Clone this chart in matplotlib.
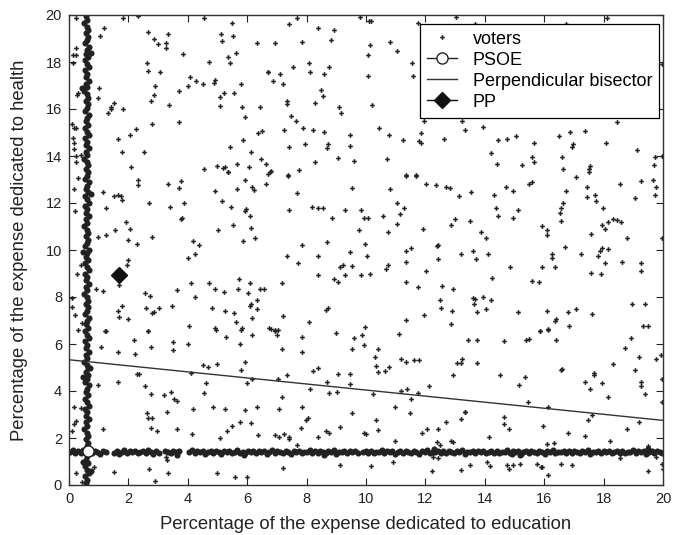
import matplotlib
matplotlib.use('Agg')
import matplotlib.pyplot as plt

# ---------------- data ----------------
# scattered voters (education %, health %)
voters_scatter = [
(1.18,19.46),(1.04,19.11),(0.25,18.6),(2.67,19.28),(2.85,19.0),(2.98,18.76),(3.27,18.8),(3.27,18.6),(3.34,19.2),(3.83,18.33),
(2.62,17.94),(2.67,17.63),(3.07,17.58),(4.71,17.98),(5.12,19.2),(5.52,19.11),(5.15,18.9),(5.48,19.68),(6.33,18.8),(5.63,18.38),
(5.35,18.23),(5.41,17.94),(6.7,17.58),(0.14,18.29),(0.23,18.29),(0.14,17.94),(4.09,17.35),(4.28,17.18),(4.0,16.99),(4.5,17.06),
(4.92,17.22),(4.88,17.12),(5.8,17.06),(2.9,16.99),(1.01,16.88),(0.3,16.7),(0.28,16.58),(0.96,16.47),(3.69,16.75),(2.85,16.6),
(2.76,16.36),(5.21,16.67),(5.07,16.53),(5.54,16.67),(1.52,16.26),(1.43,16.08),(1.41,15.98),(1.32,15.83),(1.82,16.0),(3.36,16.19),
(5.07,16.12),(5.82,16.07),(6.42,16.07),(5.91,15.65),(0.11,15.37),(0.17,15.2),(0.25,15.2),(2.79,15.37),(3.69,15.44),(2.25,15.16),
(2.06,14.9),(1.66,14.73),(0.14,14.76),(0.17,14.55),(0.17,14.3),(0.23,14.0),(0.39,14.05),(0.25,13.74),(1.78,14.17),(2.53,14.17),
(2.1,13.53),(6.5,15.08),(6.38,14.97),(5.86,14.66),(5.41,14.38),(6.14,14.17),(6.45,13.86),(5.66,13.67),(6.05,13.53),(5.24,13.55),
(5.18,13.5),(4.99,13.57),(5.35,13.32),(4.56,13.46),(6.64,13.67),(0.23,19.86),(1.82,19.86),(2.31,19.96),(4.56,19.86),
(7.67,19.89),(7.42,19.6),(8.37,19.44),(8.93,19.37),(9.79,19.92),(10.1,19.75),(10.18,19.75),(11.74,19.68),(13.04,19.92),(6.94,18.8),
(7.86,18.86),(8.82,18.93),(10.12,18.74),(10.82,18.86),(10.07,18.29),(11.05,18.45),(6.71,17.58),(7.1,17.49),(6.88,17.18),(7.22,17.06),
(7.53,17.77),(8.09,17.94),(8.12,17.58),(8.74,17.77),(8.6,17.49),(10.07,17.42),(11.55,17.94),(11.59,17.42),(8.49,16.82),(8.55,16.54),
(7.35,16.36),(7.35,16.2),(8.27,16.26),(9.1,16.07),(9.16,15.83),(10.21,16.19),(7.48,15.72),(7.63,15.5),(7.25,15.09),(7.89,15.2),
(8.23,15.11),(8.6,15.01),(9.47,14.9),(10.44,15.2),(10.78,14.9),(11.24,14.69),(11.84,14.97),(11.78,14.62),(11.84,14.57),(12.62,14.73),
(11.95,15.51),(13.24,15.51),(13.32,15.09),(7.42,14.38),(7.95,14.49),(8.72,14.49),(8.68,14.33),(9.47,14.42),(9.05,13.93),(8.29,13.74),
(9.6,13.79),(10.71,13.86),(7.73,13.39),(6.79,13.35),(6.71,13.25),(7.39,13.2),(11.33,13.2),(11.7,13.2),
(13.68,19.6),(16.72,19.6),(18.13,19.86),(19.98,17.91),(18.46,15.44),(13.93,15.23),(14.43,14.66),(14.75,14.73),(15.06,14.83),(15.65,14.55),
(16.49,14.83),(16.86,15.01),(17.39,15.08),(16.98,14.52),(16.95,14.38),(18.07,14.56),(19.14,14.27),(14.22,14.12),(15.59,13.95),(15.67,13.74),
(16.6,13.95),(14.41,13.64),(15.25,13.6),(16.64,13.43),(17.5,13.43),(17.53,13.56),(19.74,13.95),(19.7,13.6),(19.98,14.0),
(0.3,13.06),(0.17,12.6),(1.13,12.46),(1.52,12.3),(1.66,12.35),(1.75,12.3),(1.78,12.11),(2.31,13.0),(2.31,12.77),(3.32,12.82),
(3.69,12.65),(3.77,12.93),(2.7,11.99),(1.24,11.78),(0.2,11.64),(3.41,11.83),(3.86,11.99),(3.77,11.33),(3.79,11.36),(1.91,11.19),
(2.06,10.88),(1.55,10.84),(1.24,10.63),(0.99,10.56),(1.97,10.41),(2.29,10.27),(2.79,10.56),(4.19,10.39),(4.37,10.2),(4.25,9.85),
(4.0,9.68),(2.0,9.57),(1.94,9.38),(0.28,9.0),(0.39,9.38),(1.69,8.5),(0.9,8.34),(1.13,8.25),(0.11,7.94),(0.11,7.59),
(0.2,7.24),(0.43,6.88),(0.3,6.6),(4.11,8.58),(3.64,8.3),(2.57,8.18),(2.74,8.04),(4.25,7.98),(1.78,7.63),(1.66,7.41),
(1.69,7.17),(2.0,7.07),(2.59,7.52),(3.04,7.52),(2.85,7.38),(2.79,7.3),(3.46,7.63),(4.05,6.78),(2.67,6.56),(1.22,6.56),
(4.71,8.58),(4.9,8.34),(5.21,8.2),(5.72,8.75),(5.69,8.34),(6.08,8.58),(6.02,8.18),(6.42,8.34),(6.55,8.34),(6.33,7.87),
(6.14,7.72),(6.08,7.6),(6.33,7.49),(4.81,7.52),(5.26,7.41),(5.55,7.31),(6.17,7.1),(5.61,6.95),(4.93,6.67),(5.82,6.67),
(6.72,6.67),(4.9,12.53),(5.16,12.07),(5.44,11.83),(5.66,12.58),(5.91,12.96),(6.17,12.7),(6.23,12.55),(6.64,12.82),(5.95,11.75),
(5.91,11.65),(6.08,11.43),(5.52,11.08),(6.14,10.95),(5.03,10.84),(6.27,10.49),(5.86,10.37),(5.35,13.3),
(7.39,13.17),(6.77,13.3),(7.67,12.42),(9.53,12.65),(10.82,12.58),(11.33,13.17),(11.7,13.17),(12.03,12.82),(12.36,12.75),(12.68,12.7),
(12.82,12.65),(13.13,12.3),(7.42,11.71),(8.18,11.83),(8.37,11.78),(8.55,11.78),(8.87,11.36),(9.28,11.71),(9.84,11.71),(9.92,11.36),
(10.07,11.36),(10.57,11.43),(11.05,12.01),(11.27,11.78),(11.14,11.54),(11.05,11.12),(9.75,10.84),(10.73,10.77),(11.91,10.91),(12.85,11.08),
(13.0,11.3),(7.86,10.2),(8.68,10.32),(9.98,10.27),(7.35,9.74),(7.7,9.45),(8.4,9.74),(9.47,9.92),(10.03,9.74),(11.36,9.96),
(11.5,10.08),(12.4,10.15),(12.44,10.23),(13.19,9.85),(12.43,9.61),(11.33,9.47),(12.03,9.1),(9.11,9.26),(9.21,9.38),(9.53,9.33),
(10.73,9.38),(10.68,9.21),(8.37,8.93),(8.91,8.76),(9.05,8.62),(9.28,8.93),(9.84,8.93),(10.12,9.0),(7.16,8.58),(11.36,8.65),
(11.75,8.41),(12.57,8.47),(12.94,8.34),(12.48,7.87),(12.53,7.52),(12.9,7.42),(8.72,7.55),(8.65,7.45),(7.22,7.2),(8.09,6.95),
(11.33,7.03),(11.95,7.24),(12.85,6.84),(9.98,6.71),(6.79,6.65),(6.94,6.6),(7.03,6.6),
(13.54,12.46),(14.3,12.35),(14.71,12.7),(14.94,12.53),(15.5,12.82),(15.6,12.88),(16.74,12.53),(17.08,13.1),(17.51,13.3),(17.43,12.7),
(17.71,12.35),(17.43,12.25),(17.75,12.07),(18.54,12.82),(19.25,12.93),(19.67,13.0),(19.76,12.7),(19.72,12.35),(19.06,12.22),(14.39,11.78),
(14.43,11.43),(15.12,11.71),(14.94,11.36),(13.51,11.23),(16.64,12.01),(16.57,11.78),(16.52,11.58),(16.57,11.23),(17.99,11.78),(15.91,11.02),
(16.1,10.84),(16.1,10.65),(13.87,10.77),(14.05,10.49),(18.33,11.3),(18.46,11.26),(18.6,11.19),(18.15,11.19),(17.93,11.08),(18.04,10.88),
(17.56,10.67),(18.78,10.49),(19.98,10.49),(13.59,9.96),(13.7,9.61),(14.11,9.81),(16.25,9.81),(16.25,9.67),(16.7,10.13),(17.25,9.85),
(17.96,10.09),(17.88,9.96),(17.81,9.74),(18.15,10.03),(18.05,9.45),(18.63,9.5),(19.25,9.45),(19.25,9.1),(14.84,9.26),(15.91,9.26),
(16.36,9.26),(17.56,9.04),(17.9,8.97),(14.24,8.79),(15.59,8.69),(15.82,8.62),(13.59,7.94),(13.68,7.9),(13.62,7.69),(13.93,7.98),
(14.21,7.87),(13.73,7.35),(14.05,7.48),(15.12,7.35),(16.1,7.41),(16.8,7.35),(17.08,7.48),(17.62,7.28),(16.35,6.98),(16.4,7.06),
(18.97,7.69),(19.39,7.69),(16.85,6.77),(16.13,6.64),(15.87,6.56),(19.33,6.77),(19.48,6.77),
(1.24,6.54),(2.67,6.54),(1.09,5.86),(1.66,5.66),(2.2,6.19),(2.22,5.59),(2.76,5.86),(3.49,6.1),(3.49,5.76),(4.02,6.0),
(4.95,6.61),(5.29,6.3),(5.8,6.61),(6.17,6.4),(5.77,6.0),(5.91,5.24),(5.8,4.91),(4.5,5.1),(4.67,5.03),(4.98,5.16),
(2.29,4.73),(2.36,4.73),(4.11,4.77),(0.99,4.25),(1.66,4.39),(2.57,4.21),(2.76,3.86),(3.19,3.81),(3.43,3.97),(3.55,3.68),
(3.63,3.58),(4.62,4.35),(4.56,3.93),(6.0,4.35),(6.17,4.52),(0.17,3.33),(0.39,3.29),(2.62,3.06),(2.67,2.83),(2.79,2.87),
(3.3,3.11),(4.19,3.22),(4.84,3.33),(5.26,3.22),(5.91,3.18),(6.33,3.33),(2.76,2.42),(2.95,2.3),(1.13,2.37),(3.63,2.37),
(4.14,2.19),(5.07,1.98),(5.32,2.3),(5.5,2.51),(5.77,2.7),(6.14,2.63),(6.36,2.12),(0.17,2.6),(0.11,2.3),(0.22,2.73),
(3.27,1.2),(3.3,1.05),(0.84,0.75),(0.25,0.51),(1.5,0.54),(2.7,0.68),(3.32,0.49),(2.91,0.18),(4.99,0.49),(5.6,0.33),
(6.0,0.33),(0.45,0.14),
(6.95,6.54),(7.0,6.4),(7.86,6.3),(7.86,5.65),(7.16,5.79),(9.0,6.47),(9.6,6.26),(9.86,6.4),(9.92,5.95),(9.53,5.79),
(10.41,5.79),(11.1,6.43),(10.3,5.44),(10.35,5.08),(10.41,4.8),(10.63,4.84),(10.77,5.01),(11.18,5.37),(11.33,5.24),(11.61,5.31),
(11.8,5.31),(13.05,5.2),(13.19,5.2),(13.22,5.37),(12.94,4.66),(7.35,4.68),(8.23,4.84),(8.4,4.96),(9.05,4.73),(9.47,4.73),
(7.05,4.5),(8.68,4.38),(9.47,4.28),(8.12,4.07),(8.74,3.9),(9.02,3.97),(10.22,3.86),(11.19,4.0),(11.38,4.1),(11.5,3.67),
(11.75,3.93),(12.12,4.21),(7.16,3.74),(7.07,3.22),(7.86,3.33),(8.04,2.86),(7.98,2.77),(9.53,3.05),(10.35,2.77),(10.99,3.33),
(11.47,3.05),(10.4,2.34),(7.81,2.42),(9.11,2.47),(8.66,2.3),(8.74,2.23),(8.37,2.06),(6.94,2.12),(7.08,2.05),(7.25,2.16),
(7.42,2.06),(7.42,1.95),(7.67,1.71),(9.92,2.2),(10.0,2.16),(10.99,1.88),(11.89,2.23),(12.06,2.4),(12.43,2.37),(12.71,2.7),
(13.19,2.82),(13.33,3.11),(12.4,1.81),(12.49,1.71),(12.85,1.88),(12.94,1.81),(7.2,0.72),(9.11,0.85),(10.18,0.79),(10.91,0.96),
(12.21,0.61),(12.25,1.2),(12.43,1.13),(13.19,0.65),
(13.45,6.19),(13.73,6.19),(14.66,6.12),(15.4,6.19),(15.48,6.23),(15.87,6.54),(16.13,6.61),(16.41,6.19),(18.91,6.26),(18.72,5.83),
(19.2,5.44),(19.93,5.55),(19.76,5.37),(13.73,5.2),(14.52,4.68),(15.34,4.6),(15.16,4.25),(16.6,4.95),(16.57,4.88),(17.68,4.77),
(17.68,4.68),(17.39,4.39),(17.53,4.1),(17.93,4.35),(18.32,5.16),(19.06,4.91),(19.25,4.38),(19.25,4.2),(19.4,3.86),(18.15,3.74),
(19.98,4.52),(19.98,3.53),(13.34,3.11),(15.46,3.53),(16.13,3.33),(14.66,2.9),(14.66,2.6),(14.8,2.4),(15.95,2.51),(14.15,2.06),
(16.8,2.23),(17.36,2.09),(17.48,2.75),(17.62,2.98),(18.8,2.4),(19.2,2.7),(18.22,1.88),(16.33,1.8),(16.1,1.76),(19.51,1.67),
(13.51,0.85),(14.07,1.0),(14.18,0.8),(14.75,0.85),(14.8,0.68),(14.94,0.83),(15.2,0.9),(15.76,0.9),(15.88,0.78),(15.93,0.78),
(16.57,0.9),(16.92,0.85),(18.55,1.13),(19.76,1.2),(19.98,0.9),(19.51,0.61),(20.0,0.7),(16.13,0.42),
]

# voters crowded along health ~ 1.4 %
voters_hband = [
(0.03,1.40),(0.12,1.47),(0.21,1.35),(0.30,1.44),(0.39,1.38),(0.48,1.50),(0.78,1.36),(0.86,1.45),(0.95,1.40),(1.05,1.33),
(1.14,1.46),(1.24,1.41),(1.50,1.38),(1.60,1.44),(1.68,1.34),(1.77,1.42),(1.86,1.48),(1.95,1.37),(2.04,1.43),(2.13,1.39),
(2.22,1.46),(2.31,1.35),(2.40,1.41),(2.49,1.44),(2.58,1.37),(2.66,1.47),(2.75,1.40),(2.84,1.33),(2.93,1.43),(3.02,1.38),
(3.24,1.44),(3.33,1.39),(3.42,1.35),(3.51,1.45),(3.60,1.40),(3.70,1.43),(4.05,1.41),(4.14,1.47),(4.23,1.36),(4.32,1.43),
(4.41,1.39),(4.50,1.46),(4.59,1.34),(4.68,1.41),(4.77,1.45),(4.86,1.37),(4.95,1.43),(5.04,1.40),(5.13,1.33),(5.22,1.46),
(5.31,1.39),(5.40,1.44),(5.49,1.36),(5.58,1.42),(5.67,1.47),(5.76,1.38),(5.85,1.41),(5.94,1.35),(6.03,1.44),(6.12,1.40),
(6.21,1.46),(6.30,1.37),(6.39,1.43),(6.48,1.39),(6.57,1.45),(6.66,1.34),(6.75,1.41),(6.84,1.47),(6.93,1.38),(7.02,1.43),
(7.11,1.40),(7.20,1.36),(7.29,1.45),(7.38,1.41),(7.47,1.33),(7.56,1.44),(7.65,1.39),(7.74,1.46),(7.83,1.37),(7.92,1.42),
(8.01,1.40),(8.10,1.47),(8.19,1.35),(8.28,1.43),(8.37,1.38),(8.46,1.45),(8.55,1.41),(8.64,1.36),(8.73,1.44),(8.82,1.39),
(8.91,1.47),(9.00,1.34),(9.09,1.42),(9.18,1.40),(9.27,1.46),(9.36,1.37),(9.45,1.43),(9.54,1.39),(9.63,1.45),(9.72,1.36),
(9.90,1.41),(9.99,1.44),(10.08,1.38),(10.17,1.46),(10.26,1.35),(10.35,1.42),(10.44,1.40),(10.53,1.47),(10.62,1.37),(10.71,1.43),
(10.80,1.39),(10.89,1.45),(10.98,1.34),(11.07,1.41),(11.16,1.46),(11.25,1.38),(11.34,1.43),(11.43,1.40),(11.52,1.36),(11.61,1.45),
(11.70,1.41),(11.79,1.33),(11.88,1.44),(11.97,1.39),(12.06,1.47),(12.15,1.37),(12.24,1.42),(12.33,1.40),(12.42,1.46),(12.51,1.35),
(12.60,1.43),(12.69,1.38),(12.78,1.45),(12.87,1.41),(12.96,1.36),(13.05,1.44),(13.14,1.39),(13.23,1.47),(13.32,1.34),(13.41,1.42),
(13.50,1.40),(13.59,1.46),(13.68,1.37),(13.77,1.43),(13.86,1.39),(13.95,1.45),(14.04,1.36),(14.13,1.41),(14.22,1.44),(14.31,1.38),
(14.40,1.46),(14.49,1.35),(14.58,1.42),(14.67,1.40),(14.76,1.47),(14.85,1.37),(14.94,1.43),(15.03,1.39),(15.12,1.45),(15.21,1.34),
(15.30,1.41),(15.39,1.46),(15.48,1.38),(15.57,1.43),(15.66,1.40),(15.75,1.36),(15.84,1.45),(15.93,1.41),(16.02,1.33),(16.11,1.44),
(16.20,1.39),(16.29,1.47),(16.38,1.37),(16.47,1.42),(16.56,1.40),(16.65,1.46),(16.74,1.35),(16.83,1.43),(16.92,1.38),(17.01,1.45),
(17.10,1.41),(17.19,1.36),(17.28,1.44),(17.37,1.39),(17.46,1.47),(17.55,1.34),(17.64,1.42),(17.73,1.40),(17.82,1.46),(17.91,1.37),
(18.00,1.43),(18.09,1.39),(18.18,1.45),(18.27,1.36),(18.36,1.41),(18.45,1.44),(18.54,1.38),(18.63,1.46),(18.72,1.35),(18.81,1.42),
(18.90,1.40),(18.99,1.47),(19.08,1.37),(19.17,1.43),(19.26,1.39),(19.35,1.45),(19.44,1.34),(19.53,1.41),(19.62,1.46),(19.71,1.38),
(19.80,1.43),(19.89,1.40),(19.98,1.36),(3.62,1.28),(5.90,1.29),(12.30,1.55),(14.90,1.30),(19.50,1.53),(8.60,1.29),(15.20,1.27),
]

# voters crowded along education ~ 0.6 %
voters_vband = [
(0.58,0.08),(0.62,0.22),(0.55,0.37),(0.66,0.50),(0.60,0.65),(0.53,0.79),(0.64,0.93),(0.57,1.08),(0.61,1.22),(0.68,1.36),
(0.54,1.51),(0.59,1.65),(0.63,1.80),(0.56,1.94),(0.65,2.08),(0.60,2.23),(0.52,2.37),(0.62,2.52),(0.57,2.66),(0.67,2.80),
(0.58,2.95),(0.62,3.09),(0.55,3.24),(0.66,3.38),(0.60,3.52),(0.53,3.67),(0.64,3.81),(0.57,3.96),(0.61,4.10),(0.68,4.24),
(0.54,4.39),(0.59,4.53),(0.63,4.68),(0.56,4.82),(0.65,4.96),(0.60,5.11),(0.52,5.25),(0.62,5.40),(0.57,5.54),(0.67,5.68),
(0.58,5.83),(0.62,5.97),(0.55,6.12),(0.66,6.26),(0.60,6.40),(0.53,6.55),(0.64,6.69),(0.57,6.84),(0.61,6.98),(0.68,7.12),
(0.54,7.27),(0.59,7.41),(0.63,7.56),(0.56,7.70),(0.65,7.84),(0.60,7.99),(0.52,8.13),(0.62,8.28),(0.57,8.42),(0.67,8.56),
(0.58,8.71),(0.62,8.85),(0.55,9.00),(0.66,9.14),(0.60,9.28),(0.53,9.43),(0.64,9.57),(0.57,9.72),(0.61,9.86),(0.68,10.00),
(0.54,10.15),(0.59,10.29),(0.63,10.44),(0.56,10.58),(0.65,10.72),(0.60,10.87),(0.52,11.01),(0.62,11.16),(0.57,11.30),(0.67,11.44),
(0.58,11.59),(0.62,11.73),(0.55,11.88),(0.66,12.02),(0.60,12.16),(0.53,12.31),(0.64,12.45),(0.57,12.60),(0.61,12.74),(0.68,12.88),
(0.54,13.03),(0.59,13.17),(0.63,13.32),(0.56,13.46),(0.65,13.60),(0.60,13.75),(0.52,13.89),(0.62,14.04),(0.57,14.18),(0.67,14.32),
(0.58,14.47),(0.62,14.61),(0.55,14.76),(0.66,14.90),(0.60,15.04),(0.53,15.19),(0.64,15.33),(0.57,15.48),(0.61,15.62),(0.68,15.76),
(0.54,15.91),(0.59,16.05),(0.63,16.20),(0.56,16.34),(0.65,16.48),(0.60,16.63),(0.52,16.77),(0.62,16.92),(0.57,17.06),(0.67,17.20),
(0.58,17.35),(0.62,17.49),(0.55,17.64),(0.66,17.78),(0.60,17.92),(0.53,18.07),(0.64,18.21),(0.57,18.36),(0.61,18.50),(0.68,18.64),
(0.54,18.79),(0.59,18.93),(0.63,19.08),(0.56,19.22),(0.65,19.36),(0.60,19.51),(0.52,19.65),(0.62,19.80),(0.57,19.94),
(0.47,4.6),(0.72,5.0),(0.46,9.9),(0.74,12.4),(0.45,16.9),(0.73,18.4),(0.48,1.0),(0.75,0.6),
]

psoe_x, psoe_y = [0.63], [1.45]
pp_x, pp_y = [1.69], [8.93]
bisector_x = [0.0, 20.0]
bisector_y = [5.33, 2.75]

ticks = [0, 2, 4, 6, 8, 10, 12, 14, 16, 18, 20]
xlabel = "Percentage of the expense dedicated to education"
ylabel = "Percentage of the expense dedicated to health"

# ---------------- drawing ----------------
sx = [p[0] for p in voters_scatter]
sy = [p[1] for p in voters_scatter]
bx = [p[0] for p in voters_hband + voters_vband]
by = [p[1] for p in voters_hband + voters_vband]

fig = plt.figure(figsize=(6.73, 5.35), dpi=100)
ax = fig.add_axes([69/673, 1-485/535, 594/673, 470/535])

dark = '#222222'
h_v, = ax.plot(sx, sy, linestyle='none', marker='P', ms=3.4, mew=0,
               color=dark, label='voters')
ax.plot(bx, by, linestyle='none', marker='o', ms=4.4, mew=0, color=dark)
h_b, = ax.plot(bisector_x, bisector_y, '-', color='#333333', lw=1.0,
               label='Perpendicular bisector')
h_s, = ax.plot(psoe_x, psoe_y, '-o', color=dark, mfc='white', mec=dark,
               ms=8, mew=1.0, lw=1.0, label='PSOE', zorder=5)
h_p, = ax.plot(pp_x, pp_y, '-D', color='#111111', mfc='#111111', mec='#111111',
               ms=8, lw=1.0, label='PP', zorder=5)

ax.set_xlim(0, 20)
ax.set_ylim(0, 20)
ax.set_xticks(ticks)
ax.set_yticks(ticks)
ax.tick_params(direction='in', top=True, right=True, length=5, width=0.8,
               labelsize=10.5, pad=5, colors='#222222')
for lab in ax.get_xticklabels() + ax.get_yticklabels():
    lab.set_family('Liberation Sans')
for sp in ax.spines.values():
    sp.set_linewidth(1.0)
    sp.set_color('#333333')

ax.set_xlabel(xlabel, family='Liberation Sans', fontsize=13.3, labelpad=7, color='#222222')
ax.set_ylabel(ylabel, family='Liberation Sans', fontsize=13.3, labelpad=13, color='#222222')

leg = ax.legend([h_v, h_s, h_b, h_p], ['voters', 'PSOE', 'Perpendicular bisector', 'PP'],
                loc='upper right', bbox_to_anchor=(0.9933, 0.981), borderaxespad=0,
                numpoints=1, fancybox=False, framealpha=1, edgecolor='black',
                prop={'family': 'Liberation Sans', 'size': 13},
                handlelength=1.7, handletextpad=0.85, labelspacing=0.22, borderpad=0.38)
leg.get_frame().set_linewidth(0.9)

fig.savefig('out.png', dpi=100)
